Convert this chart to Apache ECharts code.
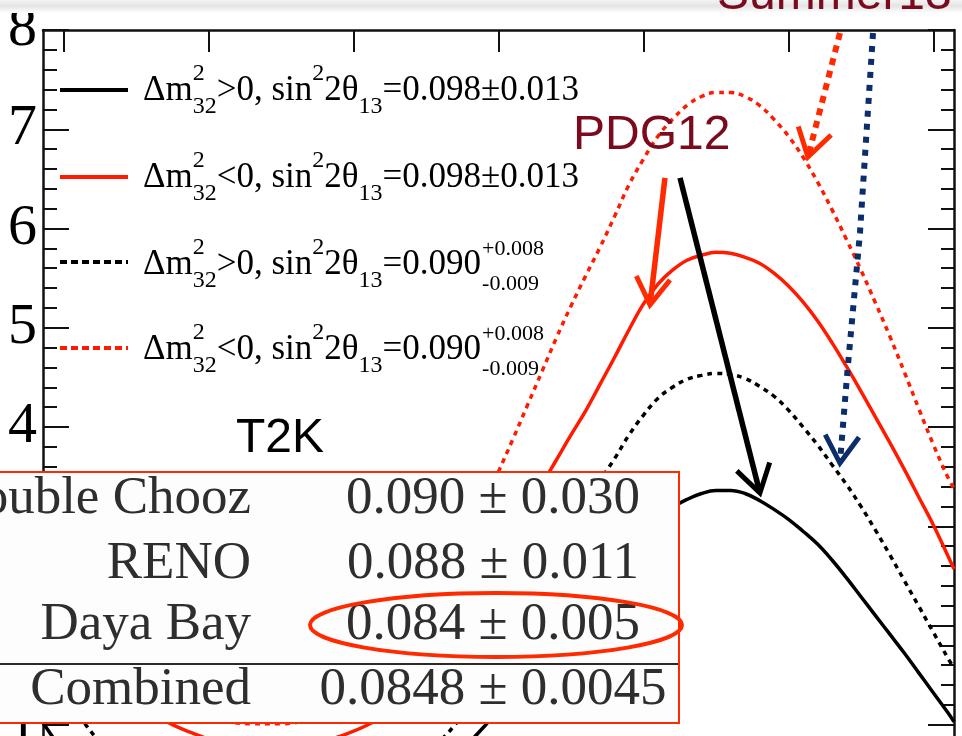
<!DOCTYPE html>
<html><head><meta charset="utf-8">
<script src="https://cdn.jsdelivr.net/npm/echarts@6.0.0/dist/echarts.min.js"></script>
<style>html,body{margin:0;padding:0;background:#fff}#c{width:962px;height:736px}</style>
</head><body><div id="c"></div>
<script>
// ---------------- data ----------------
const deltaCP = [-3.1416,-2.9,-2.7,-2.5,-2.3,-2.1,-1.9,-1.7,-1.5,-1.3,-1.1,-0.9,-0.7,-0.5,-0.3,-0.1,
  0,0.1,0.2,0.3,0.4,0.5,0.6,0.7,0.8,0.9,1.0,1.1,1.2,1.3,1.4,1.5,1.6,1.7,1.8,1.9,2.0,2.1,2.2,2.3,2.4,2.5,2.6,2.7,2.8,2.9,3.0,3.1,3.1416];
// normal hierarchy, sin^2 2theta13 = 0.098 (black solid)
const nhBest = [1.02,0.55,0.30,0.17,0.10,0.07,0.05,0.05,0.05,0.06,0.10,0.18,0.30,0.45,0.68,0.98,
  1.15,1.32,1.51,1.70,1.90,2.10,2.29,2.48,2.66,2.83,2.97,3.09,3.19,3.27,3.33,3.36,3.36,3.33,3.26,3.17,3.07,2.95,2.82,2.66,2.48,2.29,2.10,1.91,1.72,1.52,1.32,1.12,1.03];
// inverted hierarchy, 0.098 (red solid)
const ihBest = [2.50,1.98,1.58,1.25,1.04,0.91,0.81,0.76,0.75,0.79,0.88,1.00,1.17,1.45,1.82,2.28,
  2.55,2.83,3.13,3.42,3.67,3.92,4.16,4.43,4.70,4.98,5.24,5.44,5.58,5.68,5.73,5.76,5.75,5.71,5.65,5.55,5.42,5.26,5.07,4.85,4.61,4.36,4.10,3.84,3.57,3.29,3.01,2.70,2.57];
// normal hierarchy, 0.090 (black dotted)
const nhAlt = [1.58,1.10,0.75,0.52,0.38,0.28,0.22,0.19,0.19,0.22,0.28,0.38,0.52,0.72,1.00,1.45,
  1.72,2.00,2.25,2.50,2.74,2.98,3.22,3.46,3.68,3.92,4.12,4.29,4.40,4.48,4.52,4.54,4.53,4.49,4.41,4.31,4.17,4.00,3.82,3.62,3.42,3.20,2.96,2.71,2.45,2.19,1.93,1.67,1.57];
// inverted hierarchy, 0.090 (red dotted)
const ihAlt = [3.40,2.65,2.05,1.60,1.30,1.12,1.04,1.01,1.01,1.05,1.12,1.30,1.60,2.00,2.55,3.22,
  3.55,3.88,4.22,4.56,4.90,5.22,5.52,5.81,6.12,6.44,6.70,6.93,7.10,7.24,7.33,7.37,7.37,7.33,7.24,7.10,6.93,6.72,6.47,6.19,5.89,5.58,5.25,4.91,4.55,4.18,3.82,3.49,3.38];

const xMajorTicks = [-3,-2,-1,0,1,2,3];
const yTickLabels = ['0','1','2','3','4','5','6','7','8'];

const legendSigns = ['>','<','>','<'];
const legendCentral = ['0.098','0.098','0.090','0.090'];
const legendErrSym = ['±0.013','±0.013',null,null];
const legendErrUp = [null,null,'+0.008','+0.008'];
const legendErrDown = [null,null,'-0.009','-0.009'];

const tableExperiments = ['Double Chooz','RENO','Daya Bay','Combined'];
const tableValues = ['0.090 ± 0.030','0.088 ± 0.011','0.084 ± 0.005','0.0848 ± 0.0045'];

// annotation arrows, in data units (deltaCP, events)
const arrowRedDotted = [[2.355,7.97],[2.134,6.72]];
const arrowBlueDotted = [[2.583,7.97],[2.493,5.955],[2.403,4.504],[2.355,3.637]];
const arrowRedSolid = [[1.148,6.51],[1.045,5.23]];
const arrowBlackSolid = [[1.252,6.51],[1.803,3.335]];

// ---------------- styles ----------------
const RED = '#ff1a00', ORANGE_RED = '#ff2a00', NAVY = '#0c2d6b', DARKRED = '#7b0a1e';
const SERIF = '"Liberation Serif", "Times New Roman", serif';
const SANS = '"Liberation Sans", Arial, sans-serif';

const ctx = document.createElement('canvas').getContext('2d');
function tw(s, font){ ctx.font = font; return ctx.measureText(s).width; }
function txt(s, x, base, size, family, fill, align, z){
  return {type:'text', z: z||50, x: x, y: base - 0.34*size,
    style:{text:s, font: size+'px '+family, fill: fill||'#000', align: align||'left', verticalAlign:'middle'}};
}

const xMinorTicks = [];
for (let k = 0; k <= 30; k++) xMinorTicks.push(+(-3 + 0.2*k).toFixed(2));

const graphics = [];
// top shadow band
graphics.push({type:'rect', z:1, shape:{x:0,y:0,width:962,height:13},
  style:{fill:{type:'linear',x:0,y:0,x2:0,y2:1,colorStops:[{offset:0,color:'#f4f4f4'},{offset:0.45,color:'#e4e4e4'},{offset:1,color:'#ffffff'}]}}});

// legend
const legendLineY = [90,177,262,348];
const legendBase = [103,190,277,362];
const legendColor = ['#000',RED,'#000',RED];
const legendDash = [null,null,[7,4],[7,4]];
const MAINF = 35, SMALLF = 24, ERRF = 22;
for (let i = 0; i < 4; i++){
  graphics.push({type:'line', z:50, shape:{x1:60,y1:legendLineY[i],x2:128,y2:legendLineY[i]},
    style:{stroke:legendColor[i], lineWidth:4, lineDash:legendDash[i]}});
  const b = legendBase[i];
  const mf = MAINF+'px '+SERIF, sf = SMALLF+'px '+SERIF;
  let x = 143;
  graphics.push(txt('Δm', x, b, MAINF, SERIF)); x += tw('Δm', mf);
  graphics.push(txt('2', x, b-21, SMALLF, SERIF));
  graphics.push(txt('32', x, b+12, SMALLF, SERIF));
  x += Math.max(tw('2', sf), tw('32', sf));
  let s = legendSigns[i] + '0, sin';
  graphics.push(txt(s, x, b, MAINF, SERIF)); x += tw(s, mf);
  graphics.push(txt('2', x, b-21, SMALLF, SERIF)); x += tw('2', sf);
  graphics.push(txt('2θ', x, b, MAINF, SERIF)); x += tw('2θ', mf);
  graphics.push(txt('13', x, b+12, SMALLF, SERIF)); x += tw('13', sf);
  s = '=' + legendCentral[i] + (legendErrSym[i] || '');
  graphics.push(txt(s, x, b, MAINF, SERIF)); x += tw(s, mf);
  if (legendErrUp[i]){
    graphics.push(txt(legendErrUp[i], x+1, b-20, ERRF, SERIF));
    graphics.push(txt(legendErrDown[i], x+1, b+15, ERRF, SERIF));
  }
}

// labels
graphics.push(txt('PDG12', 573, 152, 48, SANS, DARKRED, 'left', 60));
graphics.push(txt('Summer13', 717, 12, 48, SANS, DARKRED, 'left', 60));
graphics.push(txt('T2K', 236, 455, 48, SANS, '#000', 'left', 60));

// table
graphics.push({type:'rect', z:100, shape:{x:-6,y:472,width:685,height:251},
  style:{fill:'#fdfdfd', stroke:ORANGE_RED, lineWidth:2}});
graphics.push({type:'line', z:101, shape:{x1:0,y1:664,x2:678,y2:664}, style:{stroke:'#2a2a2a', lineWidth:2}});
const rowBase = [517,582,643,708];
for (let i = 0; i < 4; i++){
  graphics.push(txt(tableExperiments[i], 251, rowBase[i], 53, SERIF, '#2e2e2e', 'right', 101));
  graphics.push(txt(tableValues[i], 493, rowBase[i], 53, SERIF, '#2e2e2e', 'center', 101));
}
graphics.push({type:'ellipse', z:102, shape:{cx:496,cy:625,rx:186,ry:32},
  style:{fill:'none', stroke:ORANGE_RED, lineWidth:4}});

// ---------------- chart ----------------
const chart = echarts.init(document.getElementById('c'));
const tickStyle = {color:'#111', width:2};
function curve(name, arr, color, dash){
  return {name:name, type:'line', data: deltaCP.map((d,i)=>[d, arr[i]]), showSymbol:false, smooth:0.4,
    z:3, lineStyle:{color:color, width:3.5, type: dash ? [5,5] : 'solid'}};
}
const arrowDefs = [
  {pts: arrowRedDotted, color: ORANGE_RED, width:6, dash:[7,6]},
  {pts: arrowBlueDotted, color: NAVY, width:6, dash:[6,7]},
  {pts: arrowRedSolid, color: ORANGE_RED, width:5.5, dash:null},
  {pts: arrowBlackSolid, color: '#000', width:5.5, dash:null}
];
const gridBox = {left:43, top:30, width:911, height:794, outerBoundsMode:'none', containLabel:false, show:false};

chart.setOption({
  animation:false,
  backgroundColor:'#fff',
  grid:[Object.assign({}, gridBox), Object.assign({}, gridBox)],
  xAxis:[
    {type:'value', gridIndex:0, position:'top', min:-3.1416, max:3.1416,
      axisLine:{show:true, onZero:false, lineStyle:{color:'#111', width:2.5}},
      axisTick:{show:true, inside:true, length:22, customValues:xMajorTicks, lineStyle:tickStyle},
      axisLabel:{show:false}, splitLine:{show:false}},
    {type:'value', gridIndex:1, position:'top', min:-3.1416, max:3.1416,
      axisLine:{show:false},
      axisTick:{show:true, inside:true, length:11, customValues:xMinorTicks, lineStyle:tickStyle},
      axisLabel:{show:false}, splitLine:{show:false}}
  ],
  yAxis:[
    {type:'value', gridIndex:0, position:'left', min:0, max:8, interval:1,
      axisLine:{show:true, onZero:false, lineStyle:{color:'#111', width:2.5}},
      axisTick:{show:true, inside:true, length:26, lineStyle:tickStyle},
      minorTick:{show:true, splitNumber:5, length:14, lineStyle:tickStyle},
      axisLabel:{show:true, margin:6, color:'#000', fontFamily:SERIF, fontSize:58,
        formatter:(v)=>yTickLabels[Math.round(v)]},
      splitLine:{show:false}},
    {type:'value', gridIndex:0, position:'right', min:0, max:8, interval:1,
      axisLine:{show:true, onZero:false, lineStyle:{color:'#111', width:2.5}},
      axisTick:{show:true, inside:true, length:26, lineStyle:tickStyle},
      minorTick:{show:true, splitNumber:5, length:13, lineStyle:tickStyle},
      axisLabel:{show:false}, splitLine:{show:false}},
    {type:'value', gridIndex:1, min:0, max:8, show:false}
  ],
  series:[
    curve('Δm²32>0, sin²2θ13=0.098±0.013', nhBest, '#000', false),
    curve('Δm²32<0, sin²2θ13=0.098±0.013', ihBest, RED, false),
    curve('Δm²32>0, sin²2θ13=0.090', nhAlt, '#000', true),
    curve('Δm²32<0, sin²2θ13=0.090', ihAlt, RED, true),
    {type:'custom', name:'annotations', z:5, clip:false,
      data: arrowDefs.map(a => [a.pts[0][0], a.pts[0][1]]),
      renderItem: function(params, api){
        const a = arrowDefs[params.dataIndex];
        const pts = a.pts.map(p => api.coord(p));
        const n = pts.length, tip = pts[n-1], prev = pts[n-2];
        const ang = Math.atan2(prev[1]-tip[1], prev[0]-tip[0]);
        const L = 32, h = 32*Math.PI/180;
        const p1 = [tip[0]+L*Math.cos(ang+h), tip[1]+L*Math.sin(ang+h)];
        const p2 = [tip[0]+L*Math.cos(ang-h), tip[1]+L*Math.sin(ang-h)];
        return {type:'group', children:[
          {type:'polyline', shape:{points:pts}, style:{stroke:a.color, lineWidth:a.width, lineDash:a.dash, fill:'none'}},
          {type:'polyline', shape:{points:[p1, tip, p2]}, style:{stroke:a.color, lineWidth:5, fill:'none', lineJoin:'miter'}}
        ]};
      }}
  ],
  graphic: graphics
});
</script>
</body></html>
